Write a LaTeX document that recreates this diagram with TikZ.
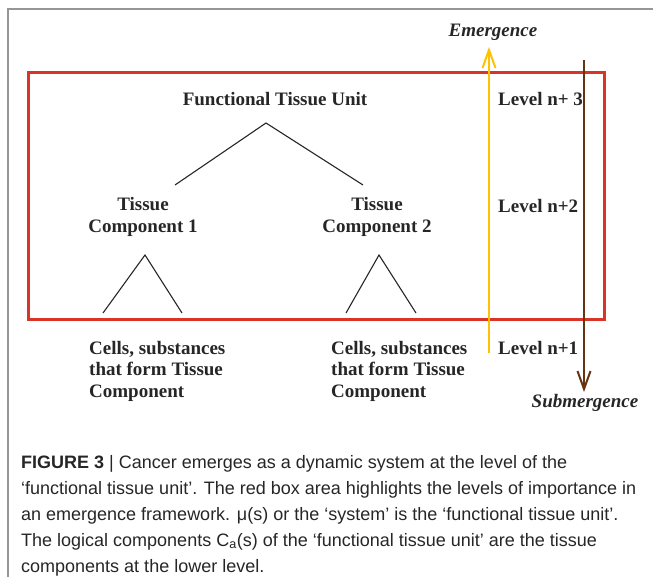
\documentclass[tikz,border=0pt]{standalone}
\usepackage{fontspec}
\setmainfont{Liberation Serif}
\newfontfamily\capfont{Liberation Sans}
\usetikzlibrary{arrows.meta}

\definecolor{boxred}{RGB}{217,52,40}
\definecolor{emergyellow}{RGB}{255,194,0}
\definecolor{submbrown}{RGB}{102,52,16}
\definecolor{framegray}{RGB}{150,150,150}
\definecolor{inkgray}{RGB}{38,38,38}

\begin{document}
\begin{tikzpicture}[x=1pt,y=-1pt,
  lvltext/.style={inkgray, inner sep=0pt, font=\fontsize{19}{21.5}\selectfont\bfseries},
  flowtext/.style={lvltext, font=\fontsize{19}{21.5}\selectfont\bfseries\itshape},
  captext/.style={inkgray, inner sep=0pt, align=left, font=\capfont\fontsize{18}{26}\selectfont},
  tree/.style={black!85, line width=1.1pt},
  emergarrow/.style={emergyellow, line width=2pt, -{Straight Barb[length=18pt,width=13pt,line width=2pt]}},
  submarrow/.style={submbrown, line width=2pt, -{Straight Barb[length=18pt,width=13pt,line width=2pt]}}]
\useasboundingbox (0,0) rectangle (653,577);

% ========= frame and red box =========
\draw[framegray, line width=1.5pt] (653,9) -- (8,9) -- (8,577);
\draw[boxred, line width=3pt] (28,73) rectangle (604,319);

% ========= top: functional tissue unit =========
\node[lvltext] (ftu) at (275,99) {Functional Tissue Unit};
\coordinate (ftuApex) at (266,123);
\coordinate (ftuLeft) at (175,185);
\coordinate (ftuRight) at (363,185);
\draw[tree] (ftuLeft) -- (ftuApex) -- (ftuRight);

% ========= middle: tissue components =========
\node[lvltext, align=center] (tc1) at (143,217) {Tissue\\Component 1};
\node[lvltext, align=center] (tc2) at (377,217) {Tissue\\Component 2};
\coordinate (tc1Apex) at (145,255);
\coordinate (tc1Left) at (103,313);
\coordinate (tc1Right) at (182,313);
\draw[tree] (tc1Left) -- (tc1Apex) -- (tc1Right);
\coordinate (tc2Apex) at (379,255);
\coordinate (tc2Left) at (346,313);
\coordinate (tc2Right) at (416,313);
\draw[tree] (tc2Left) -- (tc2Apex) -- (tc2Right);

% ========= bottom: cells =========
\node[lvltext, align=left, anchor=west] (cells1) at (89,371) {Cells, substances\\that form Tissue\\Component};
\node[lvltext, align=left, anchor=west] (cells2) at (331,371) {Cells, substances\\that form Tissue\\Component};

% ========= right: levels and arrows =========
\node[lvltext, anchor=west] (lvl3) at (498,99) {Level n+ 3};
\node[lvltext, anchor=west] (lvl2) at (498,206) {Level n+2};
\node[lvltext, anchor=west] (lvl1) at (498,348) {Level n+1};
\node[flowtext] (emerg) at (493,32) {Emergence};
\node[flowtext] (submerg) at (585,403) {Submergence};
\coordinate (emergFoot) at (489,353);
\coordinate (emergHead) at (489,47);
\draw[emergarrow] (emergFoot) -- (emergHead);
\coordinate (submTop) at (584,60);
\coordinate (submHead) at (584,392);
\draw[submarrow] (submTop) -- (submHead);

% ========= caption =========
\node[captext, anchor=north west] (caption) at (21,455) {\textbf{FIGURE 3} | Cancer emerges as a dynamic system at the level of the\\
‘functional tissue unit’. The red box area highlights the levels of importance in\\
an emergence framework. μ(s) or the ‘system’ is the ‘functional tissue unit’.\\
The logical components C\textsubscript{a}(s) of the ‘functional tissue unit’ are the tissue\\
components at the lower level.};
\end{tikzpicture}
\end{document}
